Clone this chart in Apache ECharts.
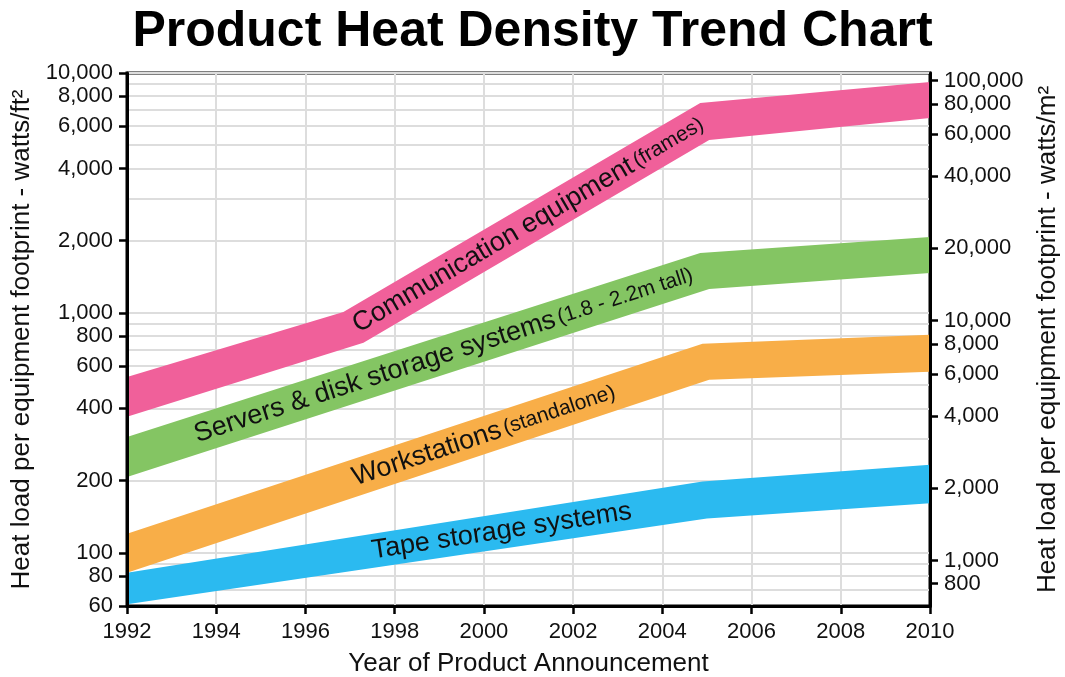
<!DOCTYPE html>
<html><head><meta charset="utf-8">
<script src="https://cdn.jsdelivr.net/npm/echarts@6/dist/echarts.min.js"></script>
<style>html,body{margin:0;padding:0;background:#fff}#c{width:1065px;height:677px}</style>
</head><body><div id="c"></div>
<script>
// ---- data ----
const titleText = 'Product Heat Density Trend Chart';
const xName = 'Year of Product Announcement';
const leftName = 'Heat load per equipment footprint - watts/ft\u00B2';
const rightName = 'Heat load per equipment footprint - watts/m\u00B2';
const bandNames = ['Communication equipment', 'Servers & disk storage systems', 'Workstations', 'Tape storage systems'];
const bandNotes = ['(frames)', '(1.8 - 2.2m tall)', '(standalone)', ''];
const commUpper = [[1992, 541], [1996.85, 1009], [2004.85, 7499], [2010, 9173]];
const commLower = [[1992, 369], [1997.3, 750], [2005.05, 5258], [2010, 6494]];
const serverUpper = [[1992, 304], [2004.85, 1778], [2010, 2074]];
const serverLower = [[1992, 207], [2005.05, 1259], [2010, 1468]];
const workUpper = [[1992, 120], [2004.9, 743], [2010, 810]];
const workLower = [[1992, 82.5], [2005.05, 526], [2010, 568]];
const tapeUpper = [[1992, 82.5], [2004.9, 198], [2010, 233]];
const tapeLower = [[1992, 61], [2005, 139], [2010, 161]];
const labelYears = [2001, 1999.1, 2000, 2000.4];
const leftTicks = [60, 80, 100, 200, 400, 600, 800, 1000, 2000, 4000, 6000, 8000, 10000];
const rightTicks = [800, 1000, 2000, 4000, 6000, 8000, 10000, 20000, 40000, 60000, 80000, 100000];
const gridValues = [60, 70, 80, 90, 100, 200, 300, 400, 500, 600, 700, 800, 900, 1000, 2000, 3000, 4000, 5000, 6000, 7000, 8000, 9000, 10000];
const yMin = 60, yMax = 10000;
const xMin = 1992, xMax = 2010;
const SQFT_PER_SQM = 10.7639;

// ---- build ----
const bandUpper = [commUpper, serverUpper, workUpper, tapeUpper];
const bandLower = [commLower, serverLower, workLower, tapeLower];
const colors = ['#F0609A', '#84C563', '#F8AE48', '#2BBAF0'];
const FONT = "'Liberation Sans', Arial, Helvetica, sans-serif";

function interpLog(pts, yr) {
  for (let k = 0; k < pts.length - 1; k++) {
    const a = pts[k], b = pts[k + 1];
    if (yr >= a[0] && yr <= b[0]) {
      const t = (yr - a[0]) / (b[0] - a[0]);
      return Math.pow(10, Math.log10(a[1]) + t * (Math.log10(b[1]) - Math.log10(a[1])));
    }
  }
  return pts[pts.length - 1][1];
}
function midValue(i, yr) {
  return Math.sqrt(interpLog(bandUpper[i], yr) * interpLog(bandLower[i], yr));
}
const fmt = v => Number(v).toLocaleString('en-US');

function bandSeries(i) {
  return {
    type: 'custom', xAxisIndex: 0, yAxisIndex: 0, z: 2, silent: true,
    data: [[labelYears[i], midValue(i, labelYears[i])]],
    encode: { x: 0, y: 1 },
    renderItem: function (params, api) {
      const up = bandUpper[i].map(p => api.coord(p));
      const lo = bandLower[i].map(p => api.coord(p)).reverse();
      const y0 = labelYears[i];
      const c = api.coord([y0, midValue(i, y0)]);
      const a = api.coord([y0 - 0.5, midValue(i, y0 - 0.5)]);
      const b = api.coord([y0 + 0.5, midValue(i, y0 + 0.5)]);
      const rot = Math.atan2(a[1] - b[1], b[0] - a[0]);
      const txt = bandNotes[i] ? '{m|' + bandNames[i] + '} {n|' + bandNotes[i] + '}' : '{m|' + bandNames[i] + '}';
      return {
        type: 'group', children: [
          { type: 'polygon', shape: { points: up.concat(lo) }, style: { fill: colors[i] } },
          {
            type: 'text', x: c[0], y: c[1], rotation: rot,
            style: {
              text: txt, align: 'center', verticalAlign: 'middle', fill: '#111',
              rich: {
                m: { fontSize: 27, fontFamily: FONT, fill: '#111' },
                n: { fontSize: 21, fontFamily: FONT, fill: '#111' }
              }
            }
          }
        ]
      };
    }
  };
}

const chart = echarts.init(document.getElementById('c'), null, { renderer: 'canvas' });
const axisLineStyle = { color: '#000', width: 3 };
const tickStyle = { color: '#000', width: 2.5 };
const gridLineStyle = { color: '#dddddd', width: 2 };
chart.setOption({
  backgroundColor: '#fff',
  animation: false,
  textStyle: { fontFamily: FONT },
  title: {
    text: titleText, left: 'center', top: 2,
    textStyle: { fontSize: 50, fontWeight: 'bold', color: '#000', fontFamily: FONT }
  },
  grid: {
    left: 127, right: 135, top: 73, bottom: 71, containLabel: false, outerBoundsMode: 'none',
    show: true, borderColor: '#000', borderWidth: 3, backgroundColor: 'transparent'
  },
  xAxis: [
    {
      type: 'value', min: xMin, max: xMax, interval: 2, position: 'bottom', z: 10,
      axisLine: { show: true, onZero: false, lineStyle: axisLineStyle },
      axisTick: { show: true, length: 8, lineStyle: tickStyle },
      axisLabel: { fontSize: 22, color: '#111', margin: 15, formatter: v => String(v), fontFamily: FONT, hideOverlap: false },
      splitLine: { show: false },
      name: xName, nameLocation: 'middle', nameGap: 45,
      nameTextStyle: { fontSize: 26, color: '#111', fontFamily: FONT }
    },
    {
      type: 'value', min: xMin, max: xMax, interval: 2, position: 'bottom', z: 0,
      axisLine: { show: false, onZero: false }, axisTick: { show: false }, axisLabel: { show: false },
      splitLine: { show: true, lineStyle: gridLineStyle }
    }
  ],
  yAxis: [
    {
      type: 'log', logBase: 10, min: yMin, max: yMax, position: 'left', z: 10,
      axisLine: { show: true, onZero: false, lineStyle: axisLineStyle },
      axisTick: { show: true, length: 8, customValues: leftTicks, lineStyle: tickStyle },
      axisLabel: { customValues: leftTicks, formatter: fmt, fontSize: 22, color: '#111', margin: 14, fontFamily: FONT },
      splitLine: { show: false },
      name: leftName, nameLocation: 'middle', nameGap: 84, nameRotate: 90,
      nameTextStyle: { fontSize: 26, color: '#111', fontFamily: FONT }
    },
    {
      type: 'log', logBase: 10, min: yMin * SQFT_PER_SQM, max: yMax * SQFT_PER_SQM, position: 'right', z: 10,
      axisLine: { show: true, onZero: false, lineStyle: axisLineStyle },
      axisTick: { show: true, length: 8, customValues: rightTicks, lineStyle: tickStyle },
      axisLabel: { customValues: rightTicks, formatter: fmt, fontSize: 22, color: '#111', margin: 14, fontFamily: FONT },
      splitLine: { show: false },
      name: rightName, nameLocation: 'middle', nameGap: 105, nameRotate: 90,
      nameTextStyle: { fontSize: 26, color: '#111', fontFamily: FONT }
    },
    {
      type: 'log', logBase: 10, min: yMin, max: yMax, position: 'left', z: 0,
      axisLine: { show: false, onZero: false },
      axisTick: { show: false, customValues: gridValues },
      axisLabel: { show: false, customValues: gridValues },
      splitLine: { show: true, lineStyle: gridLineStyle }
    }
  ],
  series: [0, 1, 2, 3].map(bandSeries)
});
</script></body></html>
